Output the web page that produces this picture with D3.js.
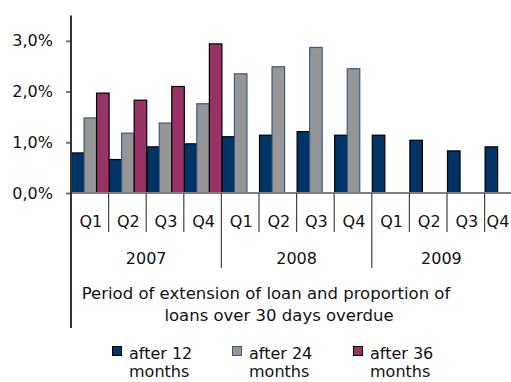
<!DOCTYPE html>
<html><head><meta charset="utf-8">
<script src="https://cdn.jsdelivr.net/npm/d3@7"></script>
<style>body{margin:0;background:#fff}svg{display:block;font-family:"DejaVu Sans",Verdana,sans-serif}</style>
</head><body>
<svg id="c" width="511" height="382"></svg>
<script>
const quarters = ["Q1","Q2","Q3","Q4","Q1","Q2","Q3","Q4","Q1","Q2","Q3","Q4"];
const years = ["2007","2008","2009"];
const after12 = [0.79,0.66,0.91,0.97,1.11,1.14,1.21,1.14,1.14,1.04,0.83,0.91];
const after24 = [1.48,1.18,1.38,1.76,2.35,2.49,2.87,2.45,null,null,null,null];
const after36 = [1.97,1.83,2.10,2.94,null,null,null,null,null,null,null,null];
const seriesNames = ["after 12 months","after 24 months","after 36 months"];
const yTicks = [0,1,2,3];
const xTitle = ["Period of extension of loan and proportion of","loans over 30 days overdue"];

const colors = ["#003366","#969696","#993366"];
const strokes = ["#000","#3a5a85","#000"];
const svg = d3.select("#c");
const x0 = 71, bw = 37.6;
const idx = d3.range(quarters.length);
const x = d3.scaleBand().domain(idx).range([x0, x0 + bw*quarters.length]).padding(0);
const xs = d3.scaleBand().domain([0,1,2]).range([0, x.bandwidth()]).padding(0);
const y = d3.scaleLinear().domain([0,3.5]).range([193,15.5]);

const series = [after12, after24, after36];
series.forEach((vals, s) => {
  svg.append("g").selectAll("rect").data(vals.map((v,i)=>({v,i})).filter(d=>d.v!=null))
    .join("rect")
    .attr("x", d => x(d.i) + xs(s) + 0.5)
    .attr("width", xs.bandwidth())
    .attr("y", d => y(d.v))
    .attr("height", d => y(0) - y(d.v))
    .attr("fill", colors[s])
    .attr("stroke", strokes[s])
    .attr("stroke-width", 1.2);
});

// y axis
const ya = svg.append("g").attr("transform", `translate(${x0},0)`)
  .call(d3.axisLeft(y).tickValues(yTicks).tickSize(5).tickPadding(13)
    .tickFormat(d => d3.format(".1f")(d).replace(".", ",") + "%"));
ya.select(".domain").remove();
ya.selectAll(".tick line").attr("stroke", "#777").attr("stroke-width", 2);
ya.selectAll("text").attr("font-size", 16).attr("fill", "#111").attr("font-family", "DejaVu Sans");

// x axis line
svg.append("line").attr("x1", x0).attr("x2", 511).attr("y1", y(0)).attr("y2", y(0))
  .attr("stroke", "#808080").attr("stroke-width", 2);
// y axis line
svg.append("line").attr("x1", x0).attr("x2", x0).attr("y1", y(3.5)).attr("y2", 328)
  .attr("stroke", "#333").attr("stroke-width", 2);

// quarter separators
idx.slice(1).forEach(i => {
  const isYear = i % 4 === 0;
  svg.append("line").attr("x1", x(i)).attr("x2", x(i))
    .attr("y1", y(0)).attr("y2", isYear ? 268 : 232)
    .attr("stroke", "#444").attr("stroke-width", 1.2);
});
// quarter labels
svg.append("g").selectAll("text").data(idx).join("text")
  .attr("x", i => Math.min(x(i) + x.bandwidth()/2 + 1, 498))
  .attr("y", 227)
  .attr("text-anchor", "middle").attr("font-size", 16).attr("fill", "#111")
  .text(i => quarters[i]);
// year labels
svg.append("g").selectAll("text").data(years).join("text")
  .attr("x", (d,k) => {
    const a = x(k*4), b = Math.min(x(k*4+3) + x.bandwidth(), 511);
    return k === 2 ? (a + 511 + 20)/2 - 10 : (a + b)/2;
  })
  .attr("y", 264)
  .attr("text-anchor", "middle").attr("font-size", 16).attr("fill", "#111")
  .text(d => d);
// title
svg.append("text").attr("x", 266).attr("y", 299).attr("text-anchor", "middle")
  .attr("font-size", 16.5).attr("fill", "#111").text(xTitle[0]);
svg.append("text").attr("x", 279).attr("y", 321).attr("text-anchor", "middle")
  .attr("font-size", 16.5).attr("fill", "#111").text(xTitle[1]);

// legend
const legX = [112, 232, 353];
seriesNames.forEach((n, s) => {
  const g = svg.append("g").attr("transform", `translate(${legX[s]},346)`);
  g.append("rect").attr("x", 0.5).attr("y", 0.5).attr("width", 9).attr("height", 9)
    .attr("fill", colors[s]).attr("stroke", strokes[s]).attr("stroke-width", 1);
  const parts = n.split(" ");
  const first = parts.slice(0,2).join(" "), second = parts.slice(2).join(" ");
  g.append("text").attr("x", 17).attr("y", 13).attr("font-size", 16).attr("fill", "#111").text(first);
  g.append("text").attr("x", 17).attr("y", 31).attr("font-size", 16).attr("fill", "#111").text(second);
});
</script>
</body></html>
